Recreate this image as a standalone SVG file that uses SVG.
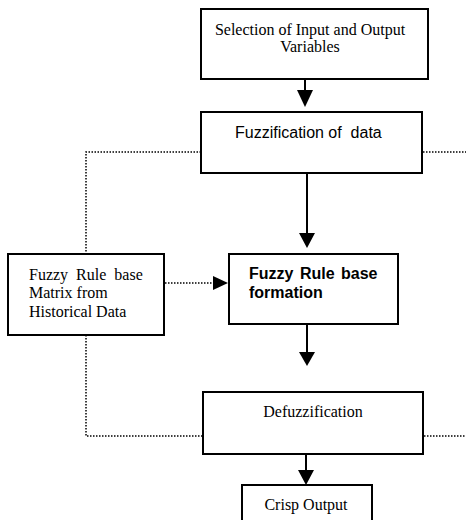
<svg xmlns="http://www.w3.org/2000/svg" width="466" height="520" viewBox="0 0 466 520">
<style>
.box{fill:#fff;stroke:#000;stroke-width:2}
.serif{font-family:"Liberation Serif","Times New Roman",serif;font-size:16px;fill:#000}
.sans{font-family:"Liberation Sans",Arial,sans-serif;font-size:16px;fill:#000}
.solid{stroke:#000;stroke-width:2;fill:none}
.dot{stroke:#000;stroke-width:1.5;fill:none;stroke-dasharray:1.5 1.5}
</style>
<defs>
<marker id="ah" viewBox="0 0 10 10" refX="10" refY="5" markerWidth="8" markerHeight="8" markerUnits="userSpaceOnUse" orient="auto">
<path d="M0,0 L10,5 L0,10 Z" fill="#000"/>
</marker>
</defs>
<rect width="466" height="520" fill="#fff"/>
<g id="connectors">
<line class="solid" x1="305" y1="79" x2="305" y2="104"/>
<path d="M297,90 L313,90 L305,107 Z" fill="#000"/>
<line class="solid" x1="307" y1="173" x2="307" y2="236"/>
<path d="M299,233 L315,233 L307,248 Z" fill="#000"/>
<line class="solid" x1="307" y1="324" x2="307" y2="355"/>
<path d="M299,352 L315,352 L307,366 Z" fill="#000"/>
<line class="solid" x1="306" y1="454" x2="306" y2="472"/>
<path d="M298,470 L314,470 L306,485 Z" fill="#000"/>
<path class="dot" d="M201,152 H86 V254"/>
<path class="dot" d="M86,335 V436 H203"/>
<line class="dot" x1="423" y1="152" x2="466" y2="152"/>
<line class="dot" x1="424" y1="436" x2="466" y2="436"/>
<line class="dot" x1="165" y1="283" x2="214" y2="283"/>
<path d="M213,276 L228,283 L213,290 Z" fill="#000"/>
</g>
<g id="n1">
<rect class="box" x="201" y="9" width="227" height="70"/>
<text class="serif" x="310" y="35" text-anchor="middle">Selection of Input and Output</text>
<text class="serif" x="310" y="52" text-anchor="middle">Variables</text>
</g>
<g id="n2">
<rect class="box" x="201" y="112" width="221" height="61"/>
<text class="sans" x="235" y="138" xml:space="preserve">Fuzzification of  data</text>
</g>
<g id="n3">
<rect class="box" x="8" y="254" width="156" height="81"/>
<text class="serif" x="29" y="280" word-spacing="4">Fuzzy Rule base</text>
<text class="serif" x="29" y="298">Matrix from</text>
<text class="serif" x="29" y="317">Historical Data</text>
</g>
<g id="n4">
<rect class="box" x="229" y="254" width="169" height="70"/>
<text class="sans" x="249" y="279" font-weight="bold" word-spacing="2">Fuzzy Rule base</text>
<text class="sans" x="249" y="298" font-weight="bold">formation</text>
</g>
<g id="n5">
<rect class="box" x="203" y="392" width="220" height="62"/>
<text class="serif" x="313" y="417" text-anchor="middle">Defuzzification</text>
</g>
<g id="n6">
<rect class="box" x="242" y="485" width="130" height="45"/>
<text class="serif" x="306" y="510" text-anchor="middle">Crisp Output</text>
</g>
</svg>
